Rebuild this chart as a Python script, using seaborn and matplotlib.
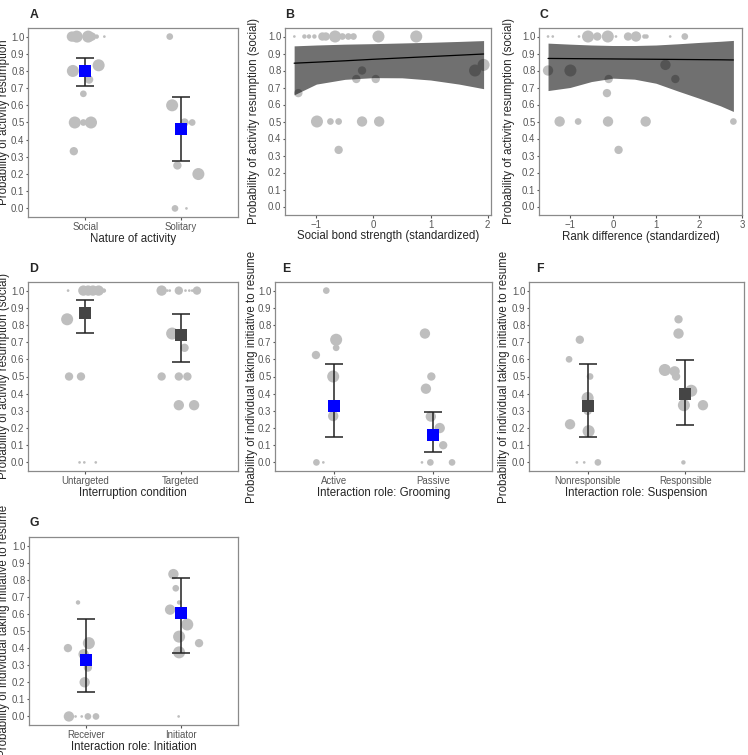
import numpy as np
import pandas as pd
import matplotlib
matplotlib.use("Agg")
import matplotlib.pyplot as plt
import seaborn as sns
from matplotlib.transforms import Bbox

# ---------------- DATA ----------------
y_ticks = [0.0, 0.1, 0.2, 0.3, 0.4, 0.5, 0.6, 0.7, 0.8, 0.9, 1.0]
y_tick_labels = ["0.0", "0.1", "0.2", "0.3", "0.4", "0.5", "0.6", "0.7", "0.8", "0.9", "1.0"]

# Panel A: nature of activity
a_cats = ["Social", "Solitary"]
a_x = [0.86, 0.91, 1.03, 1.07, 1.12, 1.20, 0.87, 1.14, 1.04, 1.00, 0.98, 0.89, 0.98, 1.06, 0.88,
       1.885, 1.91, 2.04, 2.12, 1.965, 2.185, 1.94, 2.06]
a_y = [1.0, 1.0, 1.0, 1.0, 1.0, 1.0, 0.8, 0.833, 0.75, 0.8, 0.667, 0.5, 0.5, 0.5, 0.333,
       1.0, 0.6, 0.5, 0.5, 0.25, 0.2, 0.0, 0.0]
a_w = [9, 12, 12, 6, 2, 1, 12, 12, 6, 6, 4, 12, 4, 12, 6,
       4, 12, 6, 4, 6, 12, 4, 1]
a_mean = [0.80, 0.46]
a_lo = [0.71, 0.278]
a_hi = [0.878, 0.647]

# Panel B: social bond strength
b_x = [-1.386, -1.21, -1.13, -1.035, -0.895, -0.835, -0.672, -0.544, -0.44, -0.35, 0.088, 0.75,
       -1.316, -0.20, -0.30, 0.04, 1.78, 1.93, -0.99, -0.754, -0.61, -0.20, 0.10, -0.61]
b_y = [1.0] * 12 + [0.667, 0.8, 0.75, 0.75, 0.8, 0.833, 0.5, 0.5, 0.5, 0.5, 0.5, 0.333]
b_w = [1, 2, 2, 2, 6, 6, 12, 4, 4, 4, 12, 12,
       6, 6, 6, 6, 12, 12, 12, 4, 4, 9, 9, 6]
b_fit_x = [-1.39, -1.0, -0.5, 0.0, 0.5, 1.0, 1.5, 1.93]
b_fit = [0.843, 0.849, 0.857, 0.866, 0.874, 0.882, 0.890, 0.897]
b_fit_lo = [0.657, 0.72, 0.748, 0.758, 0.757, 0.744, 0.72, 0.693]
b_fit_hi = [0.945, 0.95, 0.955, 0.958, 0.962, 0.966, 0.971, 0.976]
b_xticks = [-1, 0, 1, 2]
b_xtick_labels = ["\u22121", "0", "1", "2"]

# Panel C: rank difference
c_x = [-1.51, -1.40, -0.79, -0.58, -0.365, -0.12, 0.07, 0.35, 0.535, 0.73, 0.78, 1.33, 1.67,
       -1.51, -0.99, -0.10, -0.14, 1.22, 1.45, -1.24, -0.81, -0.115, 0.76, 2.80, 0.13]
c_y = [1.0] * 13 + [0.8, 0.8, 0.75, 0.667, 0.833, 0.75, 0.5, 0.5, 0.5, 0.5, 0.5, 0.333]
c_w = [1, 1, 1, 12, 6, 12, 1, 6, 9, 2, 2, 1, 4,
       9, 12, 6, 6, 9, 6, 9, 4, 9, 9, 4, 6]
c_fit_x = [-1.51, -1.0, -0.5, 0.0, 0.5, 1.0, 1.5, 2.0, 2.5, 2.8]
c_fit = [0.871, 0.870, 0.869, 0.868, 0.867, 0.866, 0.865, 0.864, 0.863, 0.862]
c_fit_lo = [0.682, 0.70, 0.735, 0.755, 0.749, 0.725, 0.68, 0.637, 0.592, 0.559]
c_fit_hi = [0.961, 0.955, 0.95, 0.947, 0.947, 0.95, 0.957, 0.965, 0.972, 0.977]
c_xticks = [-1, 0, 1, 2, 3]
c_xtick_labels = ["\u22121", "0", "1", "2", "3"]

# Panel D: interruption condition
d_cats = ["Untargeted", "Targeted"]
d_x = [0.82, 0.98, 1.03, 1.08, 1.14, 1.195, 0.81, 0.83, 0.955, 0.94, 0.99, 1.11,
       1.80, 1.86, 1.885, 1.98, 2.05, 2.09, 2.12, 2.17, 1.91, 2.04, 1.80, 1.98, 2.07, 1.98, 2.14]
d_y = [1.0, 1.0, 1.0, 1.0, 1.0, 1.0, 0.833, 0.5, 0.5, 0.0, 0.0, 0.0,
       1.0, 1.0, 1.0, 1.0, 1.0, 1.0, 1.0, 1.0, 0.75, 0.667, 0.5, 0.5, 0.5, 0.333, 0.333]
d_w = [1, 9, 9, 9, 9, 2, 12, 6, 6, 1, 1, 1,
       9, 1, 1, 6, 1, 1, 1, 6, 12, 6, 6, 6, 6, 9, 9]
d_mean = [0.867, 0.74]
d_lo = [0.755, 0.583]
d_hi = [0.945, 0.865]

# Panel E: grooming role
e_cats = ["Active", "Passive"]
e_x = [0.92, 0.815, 1.02, 1.02, 0.99, 1.00, 0.99, 0.82, 0.89,
       1.92, 1.985, 1.93, 1.98, 2.07, 2.105, 1.89, 1.975, 2.195]
e_y = [1.0, 0.625, 0.714, 0.667, 0.5, 0.333, 0.27, 0.0, 0.0,
       0.75, 0.5, 0.429, 0.267, 0.2, 0.1, 0.0, 0.0, 0.0]
e_w = [4, 6, 12, 4, 12, 6, 9, 4, 1,
       9, 6, 9, 9, 9, 6, 1, 4, 4]
e_mean = [0.329, 0.157]
e_lo = [0.145, 0.062]
e_hi = [0.574, 0.295]

# Panel F: suspension role
f_cats = ["Nonresponsible", "Responsible"]
f_x = [0.92, 0.81, 1.025, 1.00, 1.00, 0.82, 1.01, 0.89, 0.965, 1.105,
       1.93, 1.93, 1.79, 1.89, 1.905, 2.06, 1.985, 2.18, 1.98]
f_y = [0.714, 0.6, 0.5, 0.375, 0.3, 0.222, 0.182, 0.0, 0.0, 0.0,
       0.833, 0.75, 0.538, 0.53, 0.5, 0.417, 0.333, 0.333, 0.0]
f_w = [6, 4, 4, 12, 6, 9, 12, 1, 1, 4,
       6, 9, 12, 9, 6, 12, 12, 9, 2]
f_mean = [0.326, 0.397]
f_lo = [0.147, 0.217]
f_hi = [0.574, 0.597]

# Panel G: initiation role
g_cats = ["Receiver", "Initiator"]
g_x = [0.916, 0.81, 1.03, 0.975, 1.02, 0.986, 0.82, 0.89, 0.955, 1.02, 1.105,
       1.92, 1.945, 1.98, 1.885, 2.066, 1.98, 2.19, 1.98, 1.975]
g_y = [0.667, 0.4, 0.429, 0.364, 0.286, 0.2, 0.0, 0.0, 0.0, 0.0, 0.0,
       0.833, 0.75, 0.667, 0.625, 0.538, 0.467, 0.429, 0.375, 0.0]
g_w = [2, 6, 12, 9, 6, 9, 9, 1, 1, 4, 4,
       9, 4, 2, 9, 12, 12, 6, 12, 1]
g_mean = [0.328, 0.605]
g_lo = [0.146, 0.371]
g_hi = [0.573, 0.81]

# ---------------- STYLE ----------------
sns.set_theme(style="white")
plt.rcParams['font.family'] = ['Liberation Sans', 'DejaVu Sans']

W, H = 748, 755
fig = plt.figure(figsize=(W / 100, H / 100), dpi=100)

PT_COLOR = "#bebebe"
BORDER = "#8a8a8a"
TICKC = "#555555"
TICK_FS = 6.9
LAB_FS = 8.3
S_RANGE = (3.7, 75)


def add_ax(l, t, r, b):
    return fig.add_axes([l / W, 1 - b / H, (r - l) / W, (b - t) / H])


def style_ax(ax):
    for s in ax.spines.values():
        s.set_visible(True)
        s.set_color(BORDER)
        s.set_linewidth(0.9)
    ax.tick_params(axis="both", which="both", bottom=True, left=True, length=1.8,
                   width=0.8, color=TICKC, labelcolor=TICKC, labelsize=TICK_FS,
                   direction="out")
    ax.tick_params(axis="x", pad=1.6)
    ax.tick_params(axis="y", pad=0.8)
    ax.set_ylim(-0.05, 1.05)
    ax.set_yticks(y_ticks, y_tick_labels)
    ax.set_xlabel("")
    ax.set_ylabel("")
    ax.set_facecolor("white")


def points(ax, x, y, w):
    df = pd.DataFrame({"x": x, "y": y, "w": w})
    sns.scatterplot(data=df, x="x", y="y", size="w", sizes=S_RANGE, size_norm=(1, 12),
                    color=PT_COLOR, linewidth=0, legend=False, ax=ax, zorder=2)


def cat_panel(ax, x, y, w, cats, mean, lo, hi, color):
    points(ax, x, y, w)
    pos = np.arange(1, len(cats) + 1)
    ax.errorbar(pos, mean, yerr=[np.subtract(mean, lo), np.subtract(hi, mean)],
                fmt="none", ecolor="#222222", elinewidth=1.1, capsize=6.8,
                capthick=1.1, zorder=3)
    sns.scatterplot(x=pos, y=mean, marker="s", s=66, color=color, linewidth=0,
                    legend=False, ax=ax, zorder=4)
    ax.set_xlim(0.4, 2.6)
    style_ax(ax)
    ax.set_xticks(pos, cats)


def reg_panel(ax, x, y, w, fx, fy, flo, fhi, xlim, xt, xtl):
    points(ax, x, y, w)
    ax.fill_between(fx, flo, fhi, color="black", alpha=0.56, linewidth=0, zorder=3)
    sns.lineplot(x=fx, y=fy, color="black", linewidth=0.9, sort=False,
                 errorbar=None, ax=ax, zorder=4)
    ax.set_xlim(*xlim)
    style_ax(ax)
    ax.set_xticks(xt, xtl)


# cell clip regions (pixel, top-origin)
rows = [(0, 250), (250, 503), (503, 755)]
cols = [(0, 245), (245, 495), (495, 748)]


def clipbox(r, c):
    (t, b), (l, rr) = rows[r], cols[c]
    return Bbox.from_extents(l, H - b, rr, H - t)


def ftext(xp, yp, s, r, c, **kw):
    t = fig.text(xp / W, 1 - yp / H, s, **kw)
    t.set_clip_box(clipbox(r, c))
    t.set_clip_on(True)
    return t


panels = {
    "A": dict(box=(28, 28, 238, 217), cell=(0, 0)),
    "B": dict(box=(285, 28, 491, 215), cell=(0, 1)),
    "C": dict(box=(539, 28, 742, 215), cell=(0, 2)),
    "D": dict(box=(28, 282, 238, 471), cell=(1, 0)),
    "E": dict(box=(275, 282, 492, 471), cell=(1, 1)),
    "F": dict(box=(529, 282, 744, 471), cell=(1, 2)),
    "G": dict(box=(29, 537, 238, 725), cell=(2, 0)),
}
axs = {k: add_ax(*v["box"]) for k, v in panels.items()}

cat_panel(axs["A"], a_x, a_y, a_w, a_cats, a_mean, a_lo, a_hi, "#0000ff")
reg_panel(axs["B"], b_x, b_y, b_w, b_fit_x, b_fit, b_fit_lo, b_fit_hi, (-1.55, 2.06),
          b_xticks, b_xtick_labels)
reg_panel(axs["C"], c_x, c_y, c_w, c_fit_x, c_fit, c_fit_lo, c_fit_hi, (-1.72, 3.0),
          c_xticks, c_xtick_labels)
cat_panel(axs["D"], d_x, d_y, d_w, d_cats, d_mean, d_lo, d_hi, "#454545")
cat_panel(axs["E"], e_x, e_y, e_w, e_cats, e_mean, e_lo, e_hi, "#0000ff")
cat_panel(axs["F"], f_x, f_y, f_w, f_cats, f_mean, f_lo, f_hi, "#454545")
cat_panel(axs["G"], g_x, g_y, g_w, g_cats, g_mean, g_lo, g_hi, "#0000ff")

# panel letters
letters = {"A": (30, 18.3), "B": (285.5, 18.3), "C": (540, 18.3), "D": (29, 271.7),
           "E": (282, 271.7), "F": (536.5, 272), "G": (29, 525.7)}
for k, (xp, yp) in letters.items():
    r, c = panels[k]["cell"]
    ftext(xp, yp, k, r, c, fontsize=8.8, fontweight="bold", ha="left", va="baseline")

# axis titles
xlabels = {
    "A": ("Nature of activity", 239.3),
    "B": ("Social bond strength (standardized)", 236),
    "C": ("Rank difference (standardized)", 236.7),
    "D": ("Interruption condition", 493.3),
    "E": ("Interaction role: Grooming", 493.3),
    "F": ("Interaction role: Suspension", 493.3),
    "G": ("Interaction role: Initiation", 746.7),
}
for k, (s, yp) in xlabels.items():
    l, t, rr, b = panels[k]["box"]
    r, c = panels[k]["cell"]
    ftext((l + rr) / 2, yp, s, r, c, fontsize=LAB_FS, ha="center", va="center")

ylabels = {
    "A": ("Probability of activity resumption", 4),
    "B": ("Probability of activity resumption (social)", 254),
    "C": ("Probability of activity resumption (social)", 509),
    "D": ("Probability of activity resumption (social)", 4),
    "E": ("Probability of individual taking initiative to resume", 252.5),
    "F": ("Probability of individual taking initiative to resume", 503.5),
    "G": ("Probability of individual taking initiative to resume", 4),
}
for k, (s, xp) in ylabels.items():
    l, t, rr, b = panels[k]["box"]
    r, c = panels[k]["cell"]
    ftext(xp, (t + b) / 2, s, r, c, fontsize=LAB_FS, ha="center", va="center",
          rotation=90)

fig.savefig("out.png", dpi=100)
